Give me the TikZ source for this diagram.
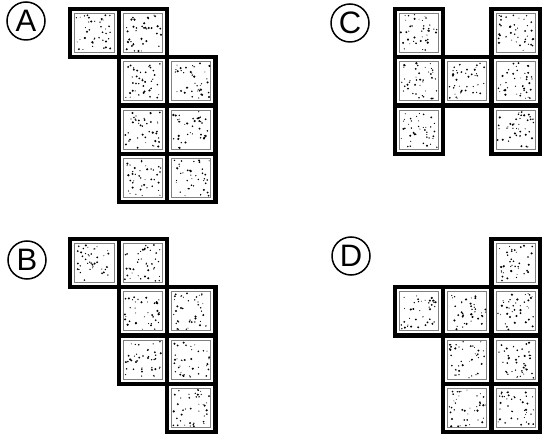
\documentclass[tikz,border=0pt]{standalone}
\usepackage{fontspec}
\setmainfont{Liberation Sans}
\begin{document}
\begin{tikzpicture}[x=1pt,y=-1pt,
  cell/.style={rectangle, draw=black, line width=4.2pt, fill=white,
    minimum size=48.4pt, inner sep=0pt,
    path picture={
      \draw[black!50, line width=1pt]
        ([shift={(4.6pt,4.6pt)}]path picture bounding box.south west) rectangle
        ([shift={(-4.6pt,-4.6pt)}]path picture bounding box.north east);
      \foreach \k in {1,...,40}{
        \pgfmathsetmacro\rx{6+rnd*36.4}
        \pgfmathsetmacro\ry{6+rnd*36.4}
        \pgfmathsetmacro\rr{0.45+rnd*0.75}
        \fill[black] ([shift={(\rx pt,\ry pt)}]path picture bounding box.south west) circle (\rr pt);
      }
    }},
  lab/.style={circle, draw=black, line width=1.5pt, minimum size=38pt, inner sep=0pt,
    font=\fontsize{31}{31}\selectfont}
]
\pgfmathsetseed{4711}
\useasboundingbox (0,0) rectangle (543,435);
\def\s{48.4}
% labels
\node[lab] (labA) at (26,21) {A};
\node[lab] (labB) at (27,260) {B};
\node[lab] (labC) at (350,23) {C};
\node[lab] (labD) at (351,256) {D};
% figure A
\foreach \c/\r [count=\n] in {0/0,1/0,1/1,2/1,1/2,2/2,1/3,2/3}
  \node[cell] (A\n) at ({70.3+(\c+0.5)*\s},{8.7+(\r+0.5)*\s}) {};
% figure B
\foreach \c/\r [count=\n] in {0/0,1/0,1/1,2/1,1/2,2/2,2/3}
  \node[cell] (B\n) at ({70.3+(\c+0.5)*\s},{238.7+(\r+0.5)*\s}) {};
% figure C
\foreach \c/\r [count=\n] in {0/0,2/0,0/1,1/1,2/1,0/2,2/2}
  \node[cell] (C\n) at ({394.7+(\c+0.5)*\s},{8.7+(\r+0.5)*\s}) {};
% figure D
\foreach \c/\r [count=\n] in {2/0,0/1,1/1,2/1,1/2,2/2,1/3,2/3}
  \node[cell] (D\n) at ({394.7+(\c+0.5)*\s},{238.7+(\r+0.5)*\s}) {};
\end{tikzpicture}
\end{document}
